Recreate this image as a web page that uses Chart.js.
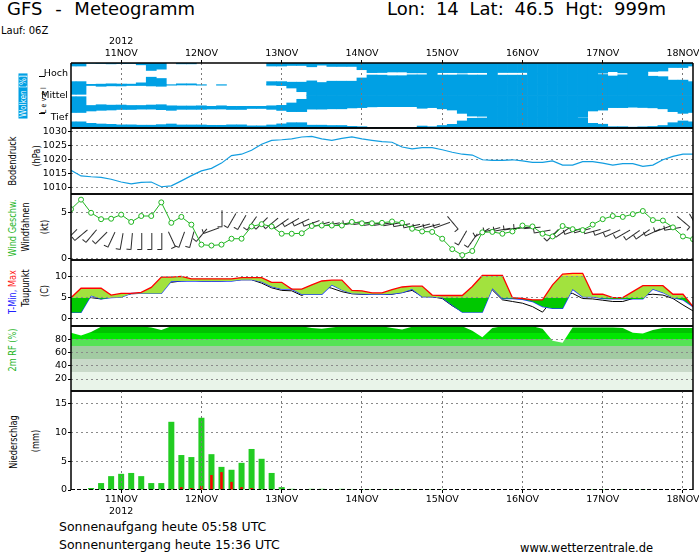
<!DOCTYPE html>
<html>
<head>
<meta charset="utf-8">
<title>GFS - Meteogramm</title>
<script src="https://cdn.jsdelivr.net/npm/chart.js@4.4.1/dist/chart.umd.min.js"></script>
<style>
  html, body { margin: 0; padding: 0; background: #fff; overflow: hidden; }
  #page { position: relative; width: 699px; height: 553px; overflow: hidden;
          font-family: 'DejaVu Sans', sans-serif; color: #000; }
  .pane { position: absolute; left: 0; width: 720px; }
  .txt { position: absolute; white-space: nowrap; line-height: 1; }
  .vlab { position: absolute; white-space: nowrap; line-height: 1; font-size: 10px;
          transform: translate(-50%, -50%) rotate(-90deg) scaleX(0.82); }
  .mark { position: absolute; width: 6px; height: 0; border-top: 1px solid #000; }
</style>
</head>
<body>
<div id="page">
  <div class="txt" style="left:7px; top:-0.2px; font-size:18px; word-spacing:7px;">GFS - Meteogramm</div>
  <div class="txt" style="left:387px; top:-0.2px; font-size:18px; word-spacing:5px;">Lon: 14 Lat: 46.5 Hgt: 999m</div>
  <div class="txt" style="left:1px; top:25.5px; font-size:10px;">Lauf: 06Z</div>

  <div class="vlab" style="left:22.5px; top:96px; font-size:9px; color:#fff; background:#00a0e4; padding:0 2px;">Wolken [%]</div>
  <div class="vlab" style="left:44px; top:99px; font-size:7.5px; letter-spacing:3px;">Level</div>
  <div class="mark" style="left:39px; top:76px;"></div>
  <div class="mark" style="left:39px; top:113px;"></div>

  <div class="vlab" style="left:13px; top:161px;">Bodendruck</div>
  <div class="vlab" style="left:37px; top:156px;">(hPa)</div>

  <div class="vlab" style="left:13px; top:228px; color:#1fb51f;">Wind Geschw.</div>
  <div class="vlab" style="left:26px; top:227px;">Windfahnen</div>
  <div class="vlab" style="left:45px; top:227px;">(kt)</div>

  <div class="vlab" style="left:13px; top:292px;"><span style="color:#2020ff;">T-Min,</span> <span style="color:#ff1a1a;">Max</span></div>
  <div class="vlab" style="left:26px; top:288px;">Taupunkt</div>
  <div class="vlab" style="left:45px; top:291px;">(C)</div>

  <div class="vlab" style="left:13px; top:350px; color:#1fb51f;">2m RF (%)</div>

  <div class="vlab" style="left:14px; top:442px;">Niederschlag</div>
  <div class="vlab" style="left:35.5px; top:441px;">(mm)</div>

  <div class="txt" style="left:59px; top:521.1px; font-size:12.5px;">Sonnenaufgang heute 05:58 UTC</div>
  <div class="txt" style="left:59px; top:538.7px; font-size:12.5px;">Sonnenuntergang heute 15:36 UTC</div>
  <div class="txt" style="left:520px; top:543.3px; font-size:11.5px;">www.wetterzentrale.de</div>
</div>

<script>
// --- Data (3-hourly, hours relative to 11NOV 00Z) ---
const hours = [
  -15, -12, -9, -6, -3, 0, 3, 6, 9,
  12, 15, 18, 21, 24, 27, 30, 33, 36,
  39, 42, 45, 48, 51, 54, 57, 60, 63,
  66, 69, 72, 75, 78, 81, 84, 87, 90,
  93, 96, 99, 102, 105, 108, 111, 114, 117,
  120, 123, 126, 129, 132, 135, 138, 141, 144,
  147, 150, 153, 156, 159, 162, 165, 168, 171
];
const dayTicks = [0, 24, 48, 72, 96, 120, 144, 168];
const dayLabels = ['11NOV', '12NOV', '13NOV', '14NOV', '15NOV', '16NOV', '17NOV', '18NOV'];
const yearLabel = '2012';

// cloud cover per level (%)
const cloudHigh = [
  28, 28, 3, 5, 8, 6, 5, 17, 69,
  57, 0, 8, 8, 0, 0, 0, 0, 0,
  0, 0, 28, 28, 23, 23, 35, 20, 32,
  32, 32, 62, 89, 88, 83, 83, 91, 91,
  100, 89, 89, 92, 89, 89, 100, 88, 88,
  88, 100, 100, 100, 100, 100, 100, 100, 94,
  80, 91, 100, 100, 78, 74, 42, 42, 28
];
const cloudMid = [
  89, 89, 8, 15, 11, 12, 8, 8, 12,
  15, 5, 3, 3, 5, 0, 5, 0, 0,
  0, 0, 5, 9, 31, 65, 100, 100, 100,
  100, 100, 100, 100, 100, 100, 100, 100, 100,
  100, 100, 100, 100, 100, 100, 100, 100, 100,
  100, 100, 100, 100, 100, 100, 100, 100, 100,
  100, 100, 100, 100, 100, 100, 100, 100, 100
];
const cloudLow = [
  57, 57, 43, 37, 34, 29, 29, 26, 26,
  31, 37, 28, 28, 28, 25, 25, 29, 29,
  20, 20, 28, 38, 49, 49, 26, 26, 23,
  23, 15, 12, 5, 3, 3, 3, 3, 18,
  12, 23, 34, 65, 90, 92, 100, 100, 100,
  100, 100, 100, 100, 100, 100, 96, 43, 35,
  12, 12, 8, 11, 14, 23, 49, 65, 57
];
const levelTicks = [0.5, 1.5, 2.5];
const levelNames = ['Tief', 'Mittel', 'Hoch'];

// surface pressure (hPa)
const pressure = [
  1016.1, 1014.1, 1013.8, 1013.6, 1012.9, 1011.9, 1011.2, 1011.8, 1011.9,
  1010.2, 1010.5, 1012.3, 1014.2, 1015.9, 1016.8, 1018.7, 1021.4, 1021.9,
  1023.3, 1025.5, 1026.9, 1027.1, 1027.4, 1028.1, 1028.3, 1027.4, 1026.9,
  1027.6, 1028.1, 1027.4, 1026.9, 1026.4, 1026.2, 1024.5, 1023.8, 1024.3,
  1024.3, 1023.5, 1022.6, 1021.9, 1021.6, 1019.9, 1019.7, 1019.7, 1019.9,
  1019.5, 1019.0, 1019.0, 1019.5, 1018.0, 1018.0, 1019.2, 1019.2, 1018.7,
  1018.0, 1018.5, 1018.5, 1017.5, 1018.0, 1019.9, 1021.1, 1021.9, 1021.9
];
const pressureTicks = [1010, 1015, 1020, 1025, 1030];

// wind speed (kt) and wind vanes (level in kt, shaft angle in degrees)
const windSpeed = [
  5.4, 6.45, 5.0, 4.3, 4.35, 4.8, 4.0, 4.65, 4.65,
  6.15, 3.9, 4.55, 3.7, 1.5, 1.4, 1.5, 2.15, 2.15,
  3.5, 3.75, 3.5, 2.7, 2.7, 2.75, 3.55, 3.6, 3.6,
  3.6, 4.0, 3.85, 3.85, 3.9, 4.05, 3.9, 3.25, 2.95,
  2.9, 2.15, 1.0, 0.35, 0.8, 2.85, 2.9, 2.7, 2.95,
  3.6, 3.5, 2.7, 2.4, 3.55, 3.2, 3.1, 3.7, 4.3,
  4.65, 4.55, 4.85, 5.2, 4.2, 4.15, 3.4, 2.4, 2.1
];
const barbLevel = [
  2.6, 2.6, 2.5, 2.3, 2.1, 1.9, 1.9, 1.9, 1.9,
  1.9, 2.1, 2.1, 2.1, 2.6, 3.1, 4.4, 4.2, 4.0,
  3.9, 3.9, 3.9, 3.9, 4.0, 4.0, 3.9, 3.8, 3.8,
  3.8, 3.9, 3.9, 3.8, 3.8, 3.8, 3.7, 3.6, 3.6,
  3.6, 3.7, 3.9, 2.3, 2.0, 2.9, 3.2, 3.2, 3.3,
  3.4, 3.4, 3.0, 2.6, 2.9, 3.0, 3.1, 3.0, 2.9,
  2.8, 2.7, 2.6, 2.7, 2.9, 3.3, 3.3, 4.0, 4.1
];
const barbAngle = [
  45, 50, 40, 45, 25, 10, 5, 0, 0,
  0, -25, 20, 15, 40, 70, 0, 30, 30,
  35, 45, 50, 55, 60, 65, 70, 75, 80,
  80, 80, 82, 82, 82, 80, 80, 78, 75,
  75, 70, -40, 30, 35, 60, 75, 80, 82,
  85, 85, 80, 45, 55, 70, 75, 75, 70,
  65, 60, 55, 55, 65, 70, 80, -50, -30
];
const windTicks = [0, 5];

// temperature (C)
const tMax = [
  5.0, 7.2, 7.2, 7.2, 5.6, 6.0, 6.0, 6.25, 7.4,
  9.8, 9.8, 10.0, 9.4, 9.4, 9.4, 9.4, 9.4, 9.7,
  9.7, 9.7, 8.6, 8.6, 7.0, 7.0, 8.0, 8.9, 9.1,
  9.1, 6.7, 6.6, 6.1, 6.1, 6.9, 7.5, 7.7, 7.7,
  5.6, 5.5, 5.5, 5.5, 7.6, 10.2, 10.2, 10.2, 5.0,
  4.8, 4.5, 4.5, 8.0, 10.5, 10.7, 10.7, 5.8, 5.8,
  5.0, 5.0, 6.4, 7.8, 7.8, 7.8, 5.8, 5.8, 2.9
];
const tMin = [
  1.55, 1.55, 5.5, 4.7, 5.0, 5.1, 6.0, 6.0, 6.0,
  6.0, 8.9, 8.9, 8.9, 8.9, 8.9, 8.9, 8.9, 9.2,
  9.2, 8.75, 7.6, 7.0, 7.0, 5.8, 5.8, 5.8, 8.0,
  6.8, 6.0, 5.9, 5.8, 5.8, 5.9, 6.2, 7.0, 5.2,
  5.2, 5.0, 3.3, 1.6, 1.6, 1.6, 7.2, 4.8, 4.8,
  4.6, 4.1, 2.9, 2.5, 2.5, 7.0, 5.2, 5.2, 4.8,
  4.7, 4.7, 4.7, 4.7, 7.0, 6.2, 5.0, 4.5, 2.9
];
const dewPoint = [
  3.7, 4.7, 5.0, 4.7, 5.2, 5.6, 5.9, 6.0, 6.4,
  8.6, 8.6, 8.9, 9.1, 8.9, 8.9, 8.9, 9.1, 9.2,
  9.2, 8.4, 7.3, 6.7, 6.6, 5.5, 6.7, 7.8, 7.2,
  6.4, 5.9, 5.8, 5.8, 5.8, 5.8, 6.2, 6.7, 5.3,
  5.2, 4.8, 3.1, 1.7, 5.2, 6.8, 6.8, 4.5, 4.1,
  3.7, 2.9, 1.6, 4.5, 6.0, 6.0, 4.8, 4.7, 4.4,
  4.1, 4.1, 4.8, 5.6, 5.8, 5.6, 4.8, 3.3, 1.9
];
const tempTicks = [0, 5, 10];

// 2m relative humidity (%)
const humidity = [
  90, 86, 91, 99, 100, 100, 100, 100, 98,
  94, 100, 100, 100, 100, 100, 100, 100, 100,
  100, 100, 100, 100, 100, 100, 97, 96, 98,
  100, 100, 100, 100, 100, 97, 95, 99, 100,
  100, 100, 100, 100, 93, 83, 97, 100, 100,
  100, 100, 96, 78, 75, 98, 98, 98, 98,
  98, 97, 90, 89, 94, 97, 97, 97, 97
];
const humidityTicks = [20, 40, 60, 80];

// precipitation (mm / 3h), total and red part
const precip = [
  0, 0, 0.35, 1.2, 2.4, 2.8, 2.95, 2.4, 1.2,
  1.2, 11.8, 6.05, 5.7, 12.5, 6.2, 4.0, 3.5, 4.7,
  7.1, 5.4, 2.95, 0.5, 0.2, 0, 0.2, 0.2, 0,
  0.2, 0.15, 0.15, 0.15, 0.15, 0.15, 0.15, 0.15, 0,
  0.15, 0.15, 0, 0, 0, 0, 0, 0, 0,
  0, 0, 0, 0, 0, 0, 0, 0.15, 0.15,
  0, 0.15, 0, 0.15, 0, 0, 0, 0, 0
];
const precipRed = [
  0, 0, 0, 0, 0, 0, 0, 0, 0,
  0, 0.05, 0.5, 0.35, 0.7, 2.6, 3.1, 1.4, 0.5,
  0.35, 0.1, 0, 0, 0, 0, 0, 0, 0,
  0, 0, 0, 0, 0, 0.1, 0, 0.1, 0,
  0, 0, 0, 0, 0, 0, 0, 0, 0,
  0, 0, 0, 0, 0, 0, 0, 0, 0,
  0, 0, 0, 0.1, 0, 0, 0, 0, 0
];
const precipTicks = [0, 5, 10, 15];

// --- Helpers ---
const X_MIN = -15, X_MAX = 171;
const CLOUD_BLUE = '#00a0e4';
const FONT = { family: "'DejaVu Sans', sans-serif", size: 9.5, lineHeight: 1.2 };
const GRID_GREY = '#8a8a8a';

const xy = (vals) => hours.map((h, i) => ({ x: h, y: vals[i] }));

function pane(top, height) {
  const d = document.createElement('div');
  d.className = 'pane';
  d.style.top = top + 'px';
  d.style.height = height + 'px';
  const cv = document.createElement('canvas');
  d.appendChild(cv);
  document.getElementById('page').appendChild(d);
  return cv;
}

// black frame round the plot area
const framePlugin = {
  id: 'frame',
  afterDraw(chart, args, opts) {
    const { ctx, chartArea: a } = chart;
    const sides = opts.sides || 'tblr';
    ctx.save();
    ctx.strokeStyle = '#000';
    ctx.lineWidth = 1.5;
    ctx.beginPath();
    if (sides.includes('t')) { ctx.moveTo(a.left, a.top); ctx.lineTo(a.right, a.top); }
    if (sides.includes('l')) { ctx.moveTo(a.left, a.top); ctx.lineTo(a.left, a.bottom); }
    if (sides.includes('r')) { ctx.moveTo(a.right, a.top); ctx.lineTo(a.right, a.bottom); }
    if (sides.includes('b')) { ctx.moveTo(a.left, a.bottom); ctx.lineTo(a.right, a.bottom); }
    ctx.stroke();
    if (opts.dashedBottom) {
      ctx.beginPath();
      ctx.lineWidth = 1;
      ctx.setLineDash([4, 2]);
      ctx.moveTo(a.left, a.bottom - 0.5); ctx.lineTo(a.right, a.bottom - 0.5);
      ctx.stroke();
    }
    ctx.restore();
  }
};

function hiddenX() {
  return { type: 'linear', min: X_MIN, max: X_MAX, offset: false, display: false };
}

function shownX(position, height, labelFn) {
  return {
    type: 'linear', position, min: X_MIN, max: X_MAX, offset: false,
    afterBuildTicks: s => { s.ticks = dayTicks.map(v => ({ value: v })); },
    afterFit: s => { s.height = height; },
    grid: { offset: false, z: 1, color: '#7a7a7a', tickColor: '#000', tickLength: 3 },
    border: { display: false, dash: [2, 3] },
    ticks: { font: FONT, color: '#000', padding: 1, maxRotation: 0, autoSkip: false,
             callback: (v, i) => labelFn(i) }
  };
}

function yAxis(min, max, ticks, extra) {
  return Object.assign({
    min, max,
    afterBuildTicks: s => { s.ticks = ticks.map(v => ({ value: v })); },
    afterFit: s => { s.width = 71; },
    border: { display: false, dash: [2, 3] },
    grid: { color: GRID_GREY, tickColor: '#000', tickLength: 3 },
    ticks: { font: FONT, color: '#000', padding: 1, autoSkip: false, callback: v => String(v) }
  }, extra || {});
}

function baseOptions(padTop, padBottom, sides, dashedBottom) {
  return {
    responsive: true, maintainAspectRatio: false, animation: false, events: [],
    layout: { padding: { left: 0, right: 27, top: padTop, bottom: padBottom } },
    plugins: { legend: { display: false }, tooltip: { enabled: false },
               frame: { sides, dashedBottom: !!dashedBottom } }
  };
}

// vertical gradient with hard colour bands in data units
function bandGradient(bands) {
  return (c) => {
    const chart = c.chart;
    const y = chart.scales && chart.scales.y;
    if (!chart.chartArea || !y) return bands[bands.length - 1][2];
    const g = chart.ctx.createLinearGradient(0, y.getPixelForValue(y.min), 0, y.getPixelForValue(y.max));
    const f = v => Math.min(1, Math.max(0, (v - y.min) / (y.max - y.min)));
    bands.forEach(([lo, hi, col]) => { g.addColorStop(f(lo), col); g.addColorStop(f(hi), col); });
    return g;
  };
}

// wind vane glyph used as point style
function vaneGlyph() {
  const c = document.createElement('canvas');
  c.width = 22; c.height = 22;
  const g = c.getContext('2d');
  g.strokeStyle = '#111';
  g.lineWidth = 0.9;
  g.beginPath();
  g.moveTo(11.5, 3); g.lineTo(11.5, 19.5);
  g.lineTo(7, 19.5);
  g.stroke();
  return c;
}

// --- Clouds ---
function cloudSet(cover, fn) {
  return {
    data: hours.map((h, i) => ({ x: h, y: fn(cover[i]) })).filter((p, i) => cover[i] > 0),
    backgroundColor: CLOUD_BLUE, borderWidth: 0,
    barPercentage: 1, categoryPercentage: 1, grouped: false
  };
}
const cloudLevels = [[cloudLow, 0], [cloudMid, 1], [cloudHigh, 2]];
const cloudSets = [];
cloudLevels.forEach(([cover, b]) => {
  cloudSets.push(cloudSet(cover, c => [b, b + c / 200]));
  cloudSets.push(cloudSet(cover, c => [b + 1 - c / 200, b + 1]));
});

new Chart(pane(30, 110), {
  type: 'bar',
  data: { datasets: cloudSets },
  options: Object.assign(baseOptions(0, 12, 'tblr'), {
    scales: {
      x: shownX('top', 33, i => i === 0 ? [yearLabel, dayLabels[i]] : dayLabels[i]),
      y: yAxis(0, 3, levelTicks, {
        grid: { display: true, drawOnChartArea: false, drawTicks: false },
        ticks: { font: FONT, color: '#000', padding: 3, autoSkip: false,
                 callback: v => levelNames[levelTicks.indexOf(v)] }
      })
    }
  }),
  plugins: [framePlugin]
});

// --- Pressure ---
new Chart(pane(116, 90), {
  type: 'line',
  data: { datasets: [{
    data: xy(pressure), borderColor: '#129de0', borderWidth: 1.2, pointRadius: 0, tension: 0
  }] },
  options: Object.assign(baseOptions(12, 12, 'tblr'), {
    scales: { x: hiddenX(), y: yAxis(1007.59, 1031.33, pressureTicks) }
  }),
  plugins: [framePlugin]
});

// --- Wind ---
new Chart(pane(182, 90), {
  type: 'line',
  data: { datasets: [
    { data: xy(windSpeed), borderColor: '#1fb51f', borderWidth: 1, tension: 0,
      pointRadius: 2.5, pointBorderWidth: 1, pointBorderColor: '#1fb51f',
      pointBackgroundColor: '#ffffff', order: 0 },
    { data: xy(barbLevel), showLine: false, pointStyle: vaneGlyph(),
      pointRotation: barbAngle, pointRadius: 6, order: 1 }
  ] },
  options: Object.assign(baseOptions(12, 12, 'tblr'), {
    scales: { x: hiddenX(), y: yAxis(-0.19, 7.07, windTicks) }
  }),
  plugins: [framePlugin]
});

// --- Temperature ---
const tempBands = [[-20, 5, '#00c800'], [5, 10, '#a2e23e'], [10, 30, '#ece23a']];
new Chart(pane(248, 90), {
  type: 'line',
  data: { datasets: [
    { data: xy(tMax), borderColor: '#ff0000', borderWidth: 1.3, pointRadius: 0, tension: 0,
      fill: '+1', backgroundColor: bandGradient(tempBands) },
    { data: xy(tMin), borderColor: '#1f3fff', borderWidth: 1.3, pointRadius: 0, tension: 0 },
    { data: xy(dewPoint), borderColor: '#000000', borderWidth: 1, pointRadius: 0, tension: 0 }
  ] },
  options: Object.assign(baseOptions(12, 12, 'tblr'), {
    scales: { x: hiddenX(), y: yAxis(-1.64, 13.82, tempTicks, {
      grid: { z: 1, color: c => (c.tick && c.tick.value === 0) ? '#555' : GRID_GREY,
              tickColor: '#000', tickLength: 3 }
    }) }
  }),
  plugins: [framePlugin]
});

// --- Relative humidity ---
const rhBands = [[0, 30, '#e9f4e9'], [30, 50, '#c9d9c9'], [50, 70, '#a2cba2'],
                 [70, 80, '#55e355'], [80, 90, '#00e600'], [90, 101, '#00c300']];
new Chart(pane(314, 89), {
  type: 'line',
  data: { datasets: [{
    data: xy(humidity), borderWidth: 0, borderColor: 'rgba(0,0,0,0)', pointRadius: 0, tension: 0,
    fill: 'start', backgroundColor: bandGradient(rhBands)
  }] },
  options: Object.assign(baseOptions(12, 12, 'tblr'), {
    scales: { x: hiddenX(), y: yAxis(1.87, 100.2, humidityTicks, {
      grid: { z: 1, color: GRID_GREY, tickColor: '#000', tickLength: 3 }
    }) }
  }),
  plugins: [framePlugin]
});

// --- Precipitation ---
function precipSet(vals, color, width, order) {
  return {
    data: xy(vals).filter(p => p.y > 0),
    backgroundColor: color, borderWidth: 0, order,
    barPercentage: width, categoryPercentage: 1, grouped: false
  };
}
new Chart(pane(379, 140), {
  type: 'bar',
  data: { datasets: [
    precipSet(precipRed, '#ff0000', 0.25, 0),
    precipSet(precip, '#22cc22', 0.6, 1)
  ] },
  options: Object.assign(baseOptions(12, 0, 'tlr', true), {
    scales: {
      x: shownX('bottom', 29, i => i === 0 ? [dayLabels[i], yearLabel] : dayLabels[i]),
      y: yAxis(0, 17.13, precipTicks, {
        grid: { color: c => (c.tick && c.tick.value === 0) ? 'rgba(0,0,0,0)' : GRID_GREY,
                tickColor: '#000', tickLength: 3 }
      })
    }
  }),
  plugins: [framePlugin]
});
</script>
</body>
</html>
